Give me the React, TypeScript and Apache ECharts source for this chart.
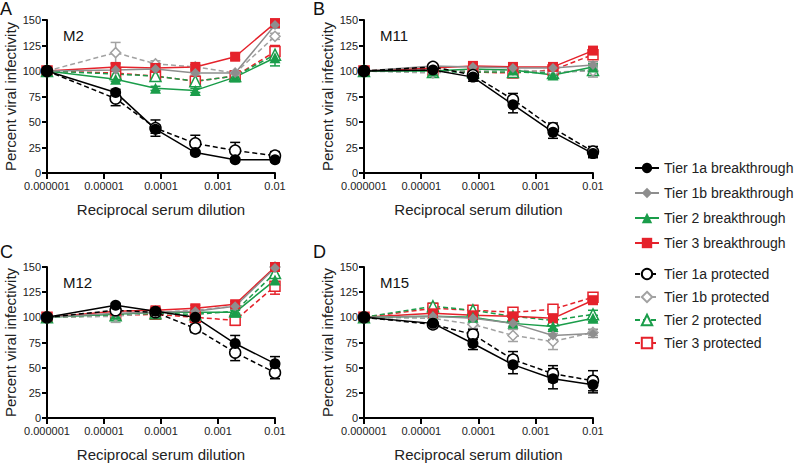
import React, { useEffect, useRef } from "react";
import * as echarts from "echarts";

// ---- data ----
const xVals = [0.000001, 0.000016, 0.00008, 0.0004, 0.002, 0.01];
const xTickLabels = ["0.000001", "0.00001", "0.0001", "0.001", "0.01"];
const panelNames = ["M2", "M11", "M12", "M15"];
const panelLetters = ["A", "B", "C", "D"];
const seriesNames = [
  "Tier 1a breakthrough",
  "Tier 1b breakthrough",
  "Tier 2 breakthrough",
  "Tier 3 breakthrough",
  "Tier 1a protected",
  "Tier 1b protected",
  "Tier 2 protected",
  "Tier 3 protected",
];

// means, in seriesNames order
const m2Means = [
  [100, 79, 43, 20, 13, 13],
  [100, 101, 102, 98, 98, 145],
  [100, 92, 83, 81, 94, 113],
  [100, 104, 103, 104, 114, 147],
  [100, 73, 44, 29, 22, 17],
  [100, 118, 107, 104, 98, 134],
  [100, 97, 95, 90, 95, 116],
  [100, 98, 95, 90, 95, 119],
];
const m2Err = [
  [0, 3, 4, 2, 2, 2],
  [0, 2, 2, 2, 2, 3],
  [0, 2, 2, 2, 2, 8],
  [0, 3, 2, 2, 3, 3],
  [0, 7, 8, 8, 8, 4],
  [0, 10, 3, 2, 2, 3],
  [0, 2, 2, 2, 2, 5],
  [0, 4, 3, 3, 3, 6],
];
const m11Means = [
  [100, 101, 94, 67, 40, 19],
  [100, 105, 104, 103, 103, 106],
  [100, 100, 102, 101, 96, 104],
  [100, 103, 105, 104, 104, 120],
  [100, 104, 96, 72, 44, 21],
  [100, 98, 101, 101, 99, 100],
  [100, 99, 99, 99, 98, 101],
  [100, 101, 99, 98, 101, 116],
];
const m11Err = [
  [0, 2, 4, 8, 6, 4],
  [0, 2, 2, 2, 2, 3],
  [0, 2, 2, 2, 3, 3],
  [0, 2, 2, 2, 2, 3],
  [0, 2, 3, 6, 5, 5],
  [0, 3, 2, 2, 2, 6],
  [0, 2, 2, 2, 2, 4],
  [0, 2, 2, 3, 2, 3],
];
const m12Means = [
  [100, 112, 106, 100, 74, 54],
  [100, 104, 105, 106, 111, 149],
  [100, 103, 105, 105, 105, 137],
  [100, 106, 107, 109, 113, 150],
  [100, 107, 105, 89, 65, 45],
  [100, 101, 105, 107, 111, 150],
  [100, 102, 104, 103, 106, 144],
  [100, 102, 103, 100, 97, 131],
];
const m12Err = [
  [0, 2, 4, 3, 8, 7],
  [0, 2, 2, 3, 3, 3],
  [0, 2, 2, 2, 2, 4],
  [0, 2, 2, 3, 3, 2],
  [0, 2, 3, 4, 8, 6],
  [0, 6, 3, 3, 3, 3],
  [0, 2, 2, 2, 2, 4],
  [0, 3, 3, 3, 5, 8],
];
const m15Means = [
  [100, 94, 74, 53, 39, 33],
  [100, 101, 99, 94, 82, 84],
  [100, 101, 100, 94, 91, 99],
  [100, 104, 102, 101, 99, 117],
  [100, 93, 83, 58, 44, 37],
  [100, 99, 93, 82, 76, 85],
  [100, 111, 107, 101, 97, 103],
  [100, 109, 107, 105, 108, 120],
];
const m15Err = [
  [0, 2, 6, 9, 10, 8],
  [0, 2, 3, 3, 4, 4],
  [0, 2, 2, 3, 3, 3],
  [0, 2, 2, 2, 2, 3],
  [0, 2, 5, 8, 8, 10],
  [0, 3, 4, 6, 8, 3],
  [0, 3, 3, 3, 3, 4],
  [0, 2, 3, 3, 3, 4],
];
const panelMeans = [m2Means, m11Means, m12Means, m15Means];
const panelErrs = [m2Err, m11Err, m12Err, m15Err];

// ---- styles ----
const FONT = "'Liberation Sans', Arial, Helvetica, sans-serif";
const BLACK = "#000000";
const GRAY = "#8e8e8e";
const LGRAY = "#a2a2a2";
const GREEN = "#1a9d4a";
const RED = "#e5222b";
const seriesStyles = [
  { color: BLACK, symbol: "circle", size: 11, filled: true, dashed: false },
  { color: GRAY, symbol: "diamond", size: 10, filled: true, dashed: false },
  { color: GREEN, symbol: "triangle", size: 11, filled: true, dashed: false },
  { color: RED, symbol: "rect", size: 10, filled: true, dashed: false },
  { color: BLACK, symbol: "circle", size: 11, filled: false, dashed: true },
  { color: LGRAY, symbol: "diamond", size: 10, filled: false, dashed: true },
  { color: GREEN, symbol: "triangle", size: 11, filled: false, dashed: true },
  { color: RED, symbol: "rect", size: 10, filled: false, dashed: true },
];
// drawing order (later = on top)
const drawOrder = [7, 6, 5, 3, 2, 1, 4, 0];

const grids = [
  { left: 47, top: 20, width: 228, height: 153 },
  { left: 364, top: 20, width: 229, height: 153 },
  { left: 47, top: 267, width: 228, height: 151 },
  { left: 364, top: 267, width: 229, height: 151 },
];

export default function App() {
  const ref = useRef<HTMLDivElement>(null);
  useEffect(() => {
    if (!ref.current) return;
    const chart = echarts.init(ref.current, null, { renderer: "svg" });

    const xAxes = grids.map((g, i) => ({
      type: "log",
      gridIndex: i,
      logBase: 10,
      min: 0.000001,
      max: 0.01,
      name: "Reciprocal serum dilution",
      nameLocation: "middle",
      nameGap: 29,
      nameTextStyle: { fontFamily: FONT, fontSize: 15, color: "#222" },
      axisLine: { lineStyle: { color: BLACK, width: 2 } },
      axisTick: { show: true, length: 6, lineStyle: { color: BLACK, width: 2 } },
      minorTick: { show: false },
      splitLine: { show: false },
      axisLabel: {
        fontFamily: FONT,
        fontSize: 11,
        color: "#222",
        margin: 7,
        formatter: (v: number) => {
          const k = Math.round(Math.log10(v)) + 6;
          return xTickLabels[k] ?? "";
        },
      },
    }));
    const yAxes = grids.map((g, i) => ({
      type: "value",
      gridIndex: i,
      min: 0,
      max: 150,
      interval: 25,
      axisLine: { show: true, lineStyle: { color: BLACK, width: 2 } },
      axisTick: { show: true, length: 5, lineStyle: { color: BLACK, width: 2 } },
      splitLine: { show: false },
      axisLabel: { fontFamily: FONT, fontSize: 11, color: "#222", margin: 6 },
    }));

    const series: any[] = [];
    // error bars first
    panelMeans.forEach((means, p) => {
      drawOrder.forEach((s) => {
        const st = seriesStyles[s];
        const errData = xVals
          .map((x, k) => [x, means[s][k] - panelErrs[p][s][k], means[s][k] + panelErrs[p][s][k], panelErrs[p][s][k]])
          .filter((d) => d[3] > 0);
        series.push({
          type: "custom",
          xAxisIndex: p,
          yAxisIndex: p,
          silent: true,
          encode: { x: 0, y: [1, 2] },
          data: errData,
          renderItem: (params: any, api: any) => {
            const x = api.value(0);
            const lo = Math.max(0, api.value(1));
            const hi = Math.min(150, api.value(2));
            const a = api.coord([x, lo]);
            const b = api.coord([x, hi]);
            const w = 5;
            const style = { stroke: st.color, lineWidth: 1.5 };
            return {
              type: "group",
              children: [
                { type: "line", shape: { x1: a[0], y1: a[1], x2: b[0], y2: b[1] }, style },
                { type: "line", shape: { x1: a[0] - w, y1: a[1], x2: a[0] + w, y2: a[1] }, style },
                { type: "line", shape: { x1: b[0] - w, y1: b[1], x2: b[0] + w, y2: b[1] }, style },
              ],
            };
          },
        });
      });
    });
    panelMeans.forEach((means, p) => {
      drawOrder.forEach((s) => {
        const st = seriesStyles[s];
        series.push({
          type: "line",
          name: seriesNames[s],
          xAxisIndex: p,
          yAxisIndex: p,
          data: xVals.map((x, k) => [x, means[s][k]]),
          symbol: st.symbol,
          symbolSize: st.size,
          showAllSymbol: true,
          lineStyle: { color: st.color, width: 1.5, type: st.dashed ? [5, 3] : "solid" },
          itemStyle: {
            color: st.filled ? st.color : "#ffffff",
            borderColor: st.color,
            borderWidth: st.filled ? 0 : 1.5,
          },
          emphasis: { disabled: true },
        });
      });
    });

    const graphics: any[] = [];
    grids.forEach((g, i) => {
      graphics.push({
        type: "text",
        x: g.left + 16,
        y: g.top + 15,
        style: { text: panelNames[i], font: `15px ${FONT}`, fill: "#111", verticalAlign: "middle" },
      });
      graphics.push({
        type: "text",
        x: i % 2 === 0 ? 0 : 313,
        y: i < 2 ? 0 : 243,
        style: { text: panelLetters[i], font: `18px ${FONT}`, fill: "#111", verticalAlign: "top" },
      });
      graphics.push({
        type: "text",
        x: g.left - 37,
        y: g.top + g.height / 2,
        rotation: Math.PI / 2,
        style: {
          text: "Percent viral infectivity",
          font: `15px ${FONT}`,
          fill: "#222",
          align: "center",
          verticalAlign: "middle",
        },
      });
    });

    const legendCommon = {
      orient: "vertical",
      left: 629,
      itemWidth: 24,
      itemHeight: 13,
      textStyle: { fontFamily: FONT, fontSize: 14, color: "#222" },
      selectedMode: false,
    };

    chart.setOption({
      animation: false,
      backgroundColor: "#ffffff",
      grid: grids.map((g) => ({ ...g, containLabel: false })),
      xAxis: xAxes,
      yAxis: yAxes,
      legend: [
        { ...legendCommon, top: 156, itemGap: 11, data: seriesNames.slice(0, 4) },
        { ...legendCommon, top: 262, itemGap: 9, data: seriesNames.slice(4) },
      ],
      graphic: graphics,
      series,
    });
    return () => chart.dispose();
  }, []);
  return (
    <div
      ref={ref}
      style={{ position: "absolute", left: 0, top: 0, width: 800, height: 464 }}
    />
  );
}
